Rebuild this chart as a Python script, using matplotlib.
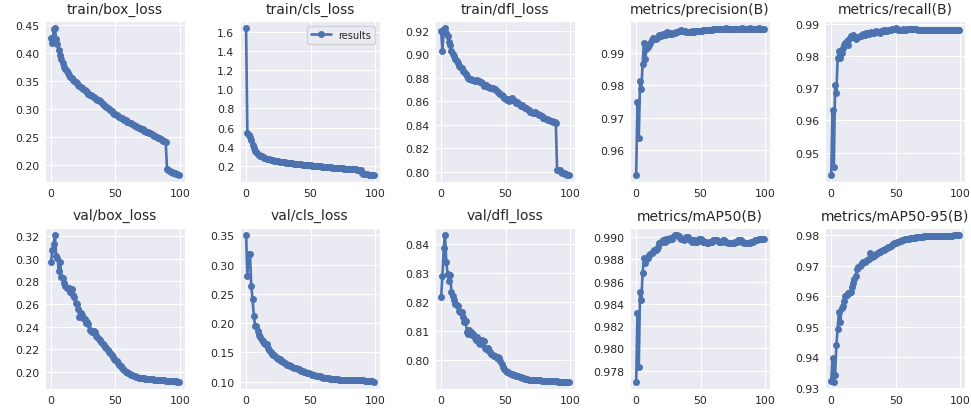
import matplotlib
matplotlib.use("Agg")
import matplotlib.pyplot as plt
import seaborn as sns

epochs = list(range(100))

train_box = [
    0.426, 0.418, 0.442, 0.444, 0.425, 0.416, 0.405, 0.396, 0.389, 0.382,
    0.376, 0.372, 0.368, 0.364, 0.361, 0.358, 0.355, 0.352, 0.350, 0.348,
    0.346, 0.344, 0.342, 0.340, 0.338, 0.336, 0.334, 0.332, 0.330, 0.328,
    0.326, 0.325, 0.323, 0.322, 0.320, 0.319, 0.317, 0.316, 0.314, 0.312,
    0.309, 0.307, 0.306, 0.304, 0.302, 0.300, 0.298, 0.296, 0.294, 0.292,
    0.291, 0.289, 0.288, 0.286, 0.285, 0.284, 0.282, 0.281, 0.280, 0.278,
    0.277, 0.276, 0.275, 0.273, 0.272, 0.271, 0.270, 0.268, 0.267, 0.266,
    0.265, 0.264, 0.262, 0.261, 0.260, 0.259, 0.258, 0.257, 0.256, 0.255,
    0.253, 0.252, 0.251, 0.249, 0.248, 0.247, 0.245, 0.244, 0.243, 0.241,
    0.194, 0.192, 0.191, 0.189, 0.188, 0.187, 0.186, 0.185, 0.184, 0.183,
]
train_cls = [
    1.635, 0.540, 0.525, 0.505, 0.470, 0.420, 0.385, 0.360, 0.345, 0.330,
    0.318, 0.308, 0.300, 0.293, 0.287, 0.282, 0.277, 0.273, 0.269, 0.265,
    0.262, 0.259, 0.256, 0.253, 0.251, 0.248, 0.246, 0.244, 0.242, 0.240,
    0.238, 0.236, 0.234, 0.232, 0.230, 0.228, 0.227, 0.225, 0.223, 0.222,
    0.220, 0.219, 0.217, 0.216, 0.214, 0.213, 0.211, 0.210, 0.209, 0.207,
    0.206, 0.205, 0.203, 0.202, 0.201, 0.199, 0.198, 0.197, 0.195, 0.194,
    0.193, 0.192, 0.190, 0.189, 0.188, 0.187, 0.185, 0.184, 0.183, 0.182,
    0.181, 0.180, 0.178, 0.177, 0.176, 0.175, 0.174, 0.173, 0.172, 0.170,
    0.169, 0.168, 0.167, 0.166, 0.165, 0.164, 0.163, 0.162, 0.160, 0.159,
    0.125, 0.120, 0.117, 0.115, 0.113, 0.111, 0.110, 0.108, 0.107, 0.106,
]
train_dfl = [
    0.920, 0.903, 0.921, 0.922, 0.918, 0.915, 0.910, 0.908, 0.903, 0.900,
    0.898, 0.896, 0.894, 0.892, 0.890, 0.889, 0.888, 0.886, 0.885, 0.883,
    0.881, 0.880, 0.879, 0.879, 0.878, 0.878, 0.877, 0.877, 0.878, 0.877,
    0.876, 0.876, 0.875, 0.873, 0.874, 0.874, 0.872, 0.872, 0.871, 0.871,
    0.871, 0.870, 0.870, 0.869, 0.868, 0.867, 0.866, 0.865, 0.864, 0.863,
    0.862, 0.861, 0.862, 0.860, 0.861, 0.863, 0.861, 0.860, 0.858, 0.859,
    0.858, 0.857, 0.856, 0.857, 0.855, 0.854, 0.854, 0.853, 0.852, 0.851,
    0.851, 0.850, 0.850, 0.851, 0.850, 0.849, 0.848, 0.848, 0.847, 0.846,
    0.846, 0.845, 0.845, 0.844, 0.844, 0.843, 0.843, 0.842, 0.842, 0.841,
    0.801, 0.801, 0.801, 0.800, 0.799, 0.799, 0.798, 0.798, 0.797, 0.797,
]
precision = [
    0.9523, 0.9750, 0.9637, 0.9813, 0.9790, 0.9865, 0.9933, 0.9882, 0.9912, 0.9918,
    0.9925, 0.9930, 0.9942, 0.9946, 0.9944, 0.9943, 0.9948, 0.9950, 0.9955, 0.9952,
    0.9956, 0.9958, 0.9955, 0.9962, 0.9966, 0.9960, 0.9958, 0.9961, 0.9960, 0.9963,
    0.9962, 0.9965, 0.9966, 0.9968, 0.9970, 0.9971, 0.9970, 0.9969, 0.9968, 0.9966,
    0.9965, 0.9966, 0.9967, 0.9968, 0.9966, 0.9967, 0.9968, 0.9969, 0.9968, 0.9969,
    0.9970, 0.9970, 0.9971, 0.9971, 0.9972, 0.9972, 0.9972, 0.9973, 0.9973, 0.9973,
    0.9974, 0.9974, 0.9974, 0.9975, 0.9975, 0.9975, 0.9975, 0.9976, 0.9976, 0.9976,
    0.9977, 0.9976, 0.9976, 0.9975, 0.9975, 0.9976, 0.9976, 0.9976, 0.9975, 0.9975,
    0.9976, 0.9976, 0.9977, 0.9976, 0.9976, 0.9975, 0.9976, 0.9976, 0.9977, 0.9976,
    0.9976, 0.9975, 0.9976, 0.9976, 0.9976, 0.9977, 0.9976, 0.9976, 0.9976, 0.9976,
]
recall = [
    0.9430, 0.9632, 0.9455, 0.9710, 0.9686, 0.9795, 0.9815, 0.9795, 0.9810, 0.9825,
    0.9835, 0.9840, 0.9845, 0.9835, 0.9852, 0.9862, 0.9860, 0.9866, 0.9858, 0.9852,
    0.9860, 0.9858, 0.9863, 0.9861, 0.9866, 0.9868, 0.9866, 0.9870, 0.9872, 0.9869,
    0.9872, 0.9874, 0.9872, 0.9870, 0.9874, 0.9876, 0.9875, 0.9873, 0.9872, 0.9876,
    0.9878, 0.9880, 0.9879, 0.9877, 0.9880, 0.9882, 0.9881, 0.9883, 0.9884, 0.9885,
    0.9886, 0.9884, 0.9882, 0.9882, 0.9881, 0.9882, 0.9883, 0.9882, 0.9882, 0.9883,
    0.9884, 0.9884, 0.9885, 0.9885, 0.9884, 0.9884, 0.9883, 0.9882, 0.9882, 0.9881,
    0.9881, 0.9881, 0.9880, 0.9881, 0.9881, 0.9880, 0.9881, 0.9881, 0.9880, 0.9881,
    0.9881, 0.9881, 0.9880, 0.9881, 0.9881, 0.9880, 0.9880, 0.9881, 0.9880, 0.9880,
    0.9880, 0.9880, 0.9881, 0.9880, 0.9880, 0.9880, 0.9881, 0.9881, 0.9882, 0.9881,
]
val_box = [
    0.2967, 0.3075, 0.3130, 0.3210, 0.3020, 0.3010, 0.2895, 0.2975, 0.2840, 0.2830,
    0.2790, 0.2760, 0.2740, 0.2740, 0.2745, 0.2705, 0.2730, 0.2680, 0.2665, 0.2610,
    0.2600, 0.2560, 0.2490, 0.2520, 0.2500, 0.2480, 0.2470, 0.2430, 0.2445, 0.2420,
    0.2370, 0.2360, 0.2350, 0.2360, 0.2350, 0.2320, 0.2310, 0.2290, 0.2280, 0.2265,
    0.2250, 0.2240, 0.2225, 0.2210, 0.2195, 0.2180, 0.2165, 0.2150, 0.2135, 0.2120,
    0.2110, 0.2095, 0.2080, 0.2065, 0.2050, 0.2040, 0.2028, 0.2015, 0.2005, 0.1998,
    0.1990, 0.1982, 0.1976, 0.1971, 0.1966, 0.1962, 0.1958, 0.1955, 0.1952, 0.1950,
    0.1948, 0.1946, 0.1944, 0.1942, 0.1940, 0.1939, 0.1938, 0.1937, 0.1936, 0.1935,
    0.1934, 0.1933, 0.1932, 0.1931, 0.1930, 0.1929, 0.1929, 0.1928, 0.1927, 0.1926,
    0.1925, 0.1924, 0.1923, 0.1922, 0.1921, 0.1920, 0.1919, 0.1918, 0.1917, 0.1916,
]
val_cls = [
    0.351, 0.281, 0.318, 0.319, 0.264, 0.242, 0.213, 0.196, 0.196, 0.186,
    0.180, 0.176, 0.172, 0.170, 0.166, 0.164, 0.165, 0.157, 0.154, 0.151,
    0.148, 0.146, 0.145, 0.143, 0.141, 0.139, 0.138, 0.136, 0.135, 0.133,
    0.132, 0.131, 0.129, 0.128, 0.127, 0.126, 0.125, 0.124, 0.124, 0.123,
    0.122, 0.121, 0.120, 0.119, 0.118, 0.117, 0.116, 0.115, 0.115, 0.114,
    0.113, 0.112, 0.112, 0.111, 0.110, 0.110, 0.109, 0.109, 0.108, 0.108,
    0.107, 0.107, 0.106, 0.106, 0.106, 0.105, 0.105, 0.105, 0.104, 0.104,
    0.104, 0.104, 0.103, 0.103, 0.103, 0.103, 0.103, 0.103, 0.102, 0.102,
    0.102, 0.102, 0.102, 0.102, 0.102, 0.102, 0.102, 0.102, 0.102, 0.102,
    0.102, 0.102, 0.101, 0.101, 0.101, 0.101, 0.101, 0.101, 0.101, 0.100,
]
val_dfl = [
    0.8216, 0.8289, 0.8386, 0.8432, 0.8337, 0.8298, 0.8273, 0.8295, 0.8235, 0.8220,
    0.8207, 0.8195, 0.8190, 0.8185, 0.8168, 0.8165, 0.8165, 0.8150, 0.8132, 0.8135,
    0.8098, 0.8090, 0.8105, 0.8095, 0.8085, 0.8088, 0.8075, 0.8070, 0.8080, 0.8058,
    0.8055, 0.8062, 0.8068, 0.8065, 0.8042, 0.8038, 0.8040, 0.8032, 0.8028, 0.8022,
    0.8018, 0.8015, 0.8012, 0.8008, 0.8010, 0.8005, 0.7995, 0.7985, 0.7975, 0.7968,
    0.7962, 0.7960, 0.7958, 0.7955, 0.7953, 0.7951, 0.7949, 0.7947, 0.7946, 0.7944,
    0.7943, 0.7941, 0.7940, 0.7938, 0.7937, 0.7935, 0.7934, 0.7933, 0.7932, 0.7931,
    0.7931, 0.7931, 0.7930, 0.7930, 0.7930, 0.7929, 0.7929, 0.7929, 0.7928, 0.7928,
    0.7928, 0.7927, 0.7927, 0.7927, 0.7927, 0.7926, 0.7926, 0.7926, 0.7926, 0.7926,
    0.7926, 0.7925, 0.7925, 0.7925, 0.7925, 0.7925, 0.7925, 0.7925, 0.7925, 0.7925,
]
map50 = [
    0.9770, 0.9832, 0.9783, 0.9851, 0.9843, 0.9868, 0.9881, 0.9877, 0.9880, 0.9881,
    0.9884, 0.9885, 0.9886, 0.9887, 0.9888, 0.9888, 0.9889, 0.9891, 0.9895, 0.9896,
    0.9896, 0.9897, 0.9896, 0.9898, 0.9898, 0.9897, 0.9899, 0.9898, 0.9898, 0.9901,
    0.9902, 0.9902, 0.9902, 0.9901, 0.9899, 0.9898, 0.9898, 0.9897, 0.9898, 0.9900,
    0.9900, 0.9898, 0.9897, 0.9896, 0.9897, 0.9897, 0.9896, 0.9896, 0.9897, 0.9898,
    0.9898, 0.9897, 0.9896, 0.9896, 0.9896, 0.9895, 0.9895, 0.9896, 0.9896, 0.9896,
    0.9897, 0.9897, 0.9897, 0.9897, 0.9896, 0.9896, 0.9896, 0.9897, 0.9897, 0.9896,
    0.9896, 0.9895, 0.9895, 0.9895, 0.9895, 0.9895, 0.9895, 0.9896, 0.9896, 0.9897,
    0.9897, 0.9897, 0.9896, 0.9896, 0.9895, 0.9895, 0.9895, 0.9895, 0.9895, 0.9896,
    0.9896, 0.9896, 0.9897, 0.9897, 0.9897, 0.9898, 0.9898, 0.9898, 0.9898, 0.9898,
]
map50_95 = [
    0.9322, 0.9398, 0.9320, 0.9343, 0.9441, 0.9492, 0.9548, 0.9515, 0.9562, 0.9567,
    0.9583, 0.9600, 0.9605, 0.9610, 0.9612, 0.9615, 0.9630, 0.9642, 0.9655, 0.9665,
    0.9690, 0.9695, 0.9700, 0.9702, 0.9708, 0.9711, 0.9713, 0.9716, 0.9718, 0.9722,
    0.9742, 0.9728, 0.9730, 0.9733, 0.9735, 0.9738, 0.9741, 0.9744, 0.9746, 0.9749,
    0.9751, 0.9753, 0.9755, 0.9757, 0.9760, 0.9762, 0.9765, 0.9768, 0.9771, 0.9773,
    0.9775, 0.9777, 0.9779, 0.9780, 0.9782, 0.9783, 0.9784, 0.9786, 0.9787, 0.9788,
    0.9789, 0.9790, 0.9790, 0.9791, 0.9792, 0.9792, 0.9793, 0.9794, 0.9794, 0.9795,
    0.9795, 0.9795, 0.9796, 0.9796, 0.9796, 0.9796, 0.9797, 0.9797, 0.9797, 0.9797,
    0.9797, 0.9797, 0.9797, 0.9797, 0.9797, 0.9798, 0.9798, 0.9798, 0.9798, 0.9798,
    0.9798, 0.9799, 0.9799, 0.9799, 0.9799, 0.9800, 0.9800, 0.9800, 0.9801, 0.9801,
]

titles = [
    "train/box_loss", "train/cls_loss", "train/dfl_loss",
    "metrics/precision(B)", "metrics/recall(B)",
    "val/box_loss", "val/cls_loss", "val/dfl_loss",
    "metrics/mAP50(B)", "metrics/mAP50-95(B)",
]
series = [
    train_box, train_cls, train_dfl, precision, recall,
    val_box, val_cls, val_dfl, map50, map50_95,
]
# y tick labels as printed on each panel
yticks = [
    ["0.20", "0.25", "0.30", "0.35", "0.40", "0.45"],
    ["0.2", "0.4", "0.6", "0.8", "1.0", "1.2", "1.4", "1.6"],
    ["0.80", "0.82", "0.84", "0.86", "0.88", "0.90", "0.92"],
    ["0.96", "0.97", "0.98", "0.99"],
    ["0.95", "0.96", "0.97", "0.98", "0.99"],
    ["0.20", "0.22", "0.24", "0.26", "0.28", "0.30", "0.32"],
    ["0.10", "0.15", "0.20", "0.25", "0.30", "0.35"],
    ["0.80", "0.81", "0.82", "0.83", "0.84"],
    ["0.978", "0.980", "0.982", "0.984", "0.986", "0.988", "0.990"],
    ["0.93", "0.94", "0.95", "0.96", "0.97", "0.98"],
]
xticks = [0, 50, 100]

sns.set_style("darkgrid")
plt.rcParams["font.family"] = ["DejaVu Sans"]

fig, axes = plt.subplots(2, 5, figsize=(9.71, 4.14), dpi=100)
fig.subplots_adjust(left=0.046, right=0.994, top=0.947, bottom=0.058,
                    wspace=0.39, hspace=0.28)

for ax, title, y, yt in zip(axes.ravel(), titles, series, yticks):
    ax.plot(epochs, y, marker="o", color="#4C72B0", linewidth=1.9,
            markersize=4, label="results")
    ax.set_title(title, fontsize=10, color="#262626")
    ax.set_xticks(xticks)
    ax.set_yticks([float(t) for t in yt], yt)
    ax.tick_params(labelsize=7.8, colors="#262626", length=0, pad=4)

axes[0, 1].legend(loc="upper right", fontsize=7)

fig.savefig("out.png", dpi=100)
